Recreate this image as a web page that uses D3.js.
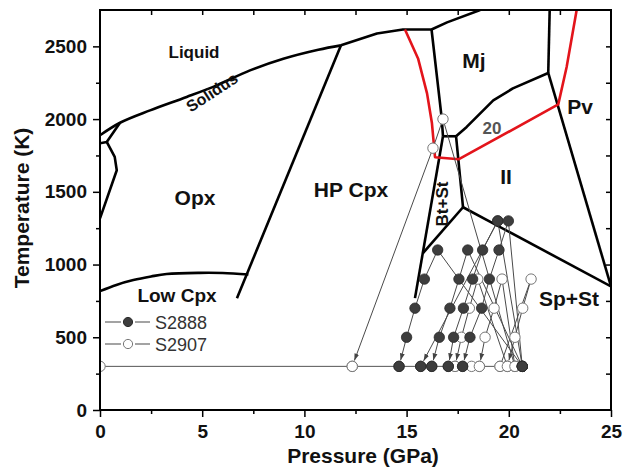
<!DOCTYPE html>
<html>
<head>
<meta charset="utf-8">
<script src="https://cdn.jsdelivr.net/npm/d3@7"></script>
<style>
  body { margin: 0; background: #fff; }
  svg text { font-family: Arial, "Liberation Sans", sans-serif; }
</style>
</head>
<body>
<svg id="chart" width="623" height="475"></svg>
<script>
// ---- DATA : [pressure (GPa), temperature (K)] ----
const pressureTicks = [0, 5, 10, 15, 20, 25];
const tempTicks = [0, 500, 1000, 1500, 2000, 2500];

// phase boundaries
const solidusLow = [[0, 1889], [0.98, 1975], [2.45, 2060], [4.24, 2152], [5.71, 2232], [7.34, 2335], [8.97, 2415], [10.68, 2477], [11.79, 2507]];
const solidusHigh = [[11.79, 2507], [13.55, 2589], [14.82, 2616], [16.22, 2616], [16.98, 2665], [18.6, 2750]];
const loopUpper = [[0, 1834], [0.33, 1843], [0.98, 1975]];
const loopLower = [[0.33, 1843], [0.72, 1740], [0.82, 1648], [0, 1317]];
const lowCpx = [[0, 817], [0.8, 860], [1.63, 893], [2.5, 918], [3.26, 935], [4.89, 943], [6.0, 942], [7.26, 932]];
const opxHpCpx = [[6.7, 769], [11.79, 2507]];
const mjLeft = [[16.22, 2616], [16.72, 2003], [16.78, 1882]];
const btStLeft = [[16.78, 1882], [15.41, 769]];
const btStTop = [[16.78, 1882], [17.42, 1882]];
const btStRight = [[17.42, 1882], [17.76, 1394]];
const btStBottom = [[15.8, 1078], [17.76, 1394]];
const spStTop = [[17.76, 1394], [25, 850]];
const mjIl = [[17.42, 1882], [17.94, 1946], [19.24, 2129], [20.2, 2211], [21.93, 2317]];
const mjPv = [[21.93, 2317], [22.0, 2750]];
const pvIl = [[21.93, 2317], [25, 850]];
const red20 = [[14.92, 2616], [15.56, 2417], [16.0, 2177], [16.24, 1971], [16.39, 1738], [17.56, 1724], [22.42, 2101], [22.83, 2358], [23.32, 2750]];

// S2888 (filled) heating / cooling runs, arrow on the last step
const s2888Runs = [
  [[20.66, 300], [16.52, 1100], [15.87, 900], [15.41, 700], [15.0, 500], [14.63, 300]],
  [[20.66, 300], [17.99, 1100], [17.56, 900], [17.12, 700], [16.6, 500], [16.23, 300]],
  [[20.66, 300], [19.46, 1300], [18.72, 1100], [18.23, 900], [17.78, 700], [17.3, 500], [17.04, 300]],
  [[20.66, 300], [19.98, 1300], [19.52, 1100], [19.05, 900], [18.67, 700], [18.1, 500], [17.74, 300]],
  [[19.46, 1300], [15.69, 300]]
];
const s2888Room = [14.63, 15.69, 16.23, 17.04, 17.74, 20.66];

// S2907 (open)
const s2907Runs = [
  [[20.3, 300], [16.78, 2000], [16.29, 1800], [12.34, 300]],
  [[19.93, 300], [18.48, 900], [18.07, 700], [17.68, 500], [17.37, 300]],
  [[20.3, 300], [19.67, 900], [19.28, 700], [18.84, 500], [18.56, 300]],
  [[19.57, 300], [21.09, 900], [20.68, 700], [20.3, 500], [19.93, 300]]
];
const s2907Room = [0, 12.34, 17.37, 18.18, 18.56, 19.57, 19.93, 20.3];
const roomT = 300;

// ---- SETUP ----
const svg = d3.select('#chart');
const pad = { top: 10, right: 12, bottom: 65, left: 100 };
const width = +svg.attr('width');
const height = +svg.attr('height');
const pointR = 5.2;

const x = d3.scaleLinear().domain([0, 25]).range([pad.left, width - pad.right]);
const y = d3.scaleLinear().domain([0, 2750]).range([height - pad.bottom, pad.top]);

const defs = svg.append('defs');
defs.append('clipPath').attr('id', 'plot')
  .append('rect')
  .attr('x', x(0)).attr('y', y(2750))
  .attr('width', x(25) - x(0)).attr('height', y(0) - y(2750));

defs.append('marker')
  .attr('id', 'arrow')
  .attr('viewBox', '0 0 10 10')
  .attr('refX', 10).attr('refY', 5)
  .attr('markerWidth', 7).attr('markerHeight', 7)
  .attr('markerUnits', 'userSpaceOnUse')
  .attr('orient', 'auto')
  .append('path')
  .attr('d', 'M0,1.5L10,5L0,8.5Z')
  .attr('fill', '#444');

//AXIS
function styleAxis(g) {
  g.select('.domain').remove();
  g.selectAll('.tick line').attr('stroke', '#000').attr('stroke-width', 1.5);
  g.selectAll('.tick text')
    .attr('fill', '#111')
    .style('font-size', '19px')
    .style('font-weight', 'bold');
}

svg.append('g')
  .attr('transform', `translate(0,${y(0)})`)
  .call(d3.axisBottom(x).tickValues(pressureTicks).tickSize(7).tickPadding(8).tickFormat(d3.format('d')))
  .call(styleAxis);
svg.append('g')
  .attr('transform', `translate(0,${y(0)})`)
  .call(d3.axisBottom(x).tickValues([2.5, 7.5, 12.5, 17.5, 22.5]).tickSize(4).tickFormat(''))
  .call(styleAxis);
svg.append('g')
  .attr('transform', `translate(${x(0)},0)`)
  .call(d3.axisLeft(y).tickValues(tempTicks).tickSize(7).tickPadding(6).tickFormat(d3.format('d')))
  .call(styleAxis);
svg.append('g')
  .attr('transform', `translate(${x(0)},0)`)
  .call(d3.axisLeft(y).tickValues([250, 750, 1250, 1750, 2250]).tickSize(4).tickFormat(''))
  .call(styleAxis);
svg.append('g')
  .attr('transform', `translate(0,${y(2750)})`)
  .call(d3.axisTop(x).tickValues(d3.range(2.5, 25, 2.5)).tickSize(-5).tickFormat(''))
  .call(styleAxis);
svg.append('g')
  .attr('transform', `translate(${x(25)},0)`)
  .call(d3.axisRight(y).tickValues(d3.range(250, 2750, 250)).tickSize(-5).tickFormat(''))
  .call(styleAxis);

//PHASE BOUNDARIES
const plot = svg.append('g').attr('clip-path', 'url(#plot)');
const line = d3.line().x((d) => x(d[0])).y((d) => y(d[1]));
const smooth = d3.line().x((d) => x(d[0])).y((d) => y(d[1])).curve(d3.curveCatmullRom.alpha(0.5));

const blackLines = [solidusHigh, loopUpper, loopLower, opxHpCpx, mjLeft, btStLeft, btStTop,
  btStRight, btStBottom, spStTop, mjIl, mjPv, pvIl];

plot.append('path').attr('d', smooth(solidusLow))
  .attr('fill', 'none').attr('stroke', '#000').attr('stroke-width', 2.6);
plot.append('path').attr('d', smooth(lowCpx))
  .attr('fill', 'none').attr('stroke', '#000').attr('stroke-width', 2.6);
plot.selectAll('.phase')
  .data(blackLines)
  .enter()
  .append('path')
  .classed('phase', true)
  .attr('d', line)
  .attr('fill', 'none')
  .attr('stroke', '#000')
  .attr('stroke-width', 2.6)
  .attr('stroke-linejoin', 'round');
plot.append('path').attr('d', line(red20))
  .attr('fill', 'none').attr('stroke', '#e3141b').attr('stroke-width', 2.6)
  .attr('stroke-linejoin', 'round');

//EXPERIMENT RUNS
const roomPs = s2888Room.concat(s2907Room);
plot.append('line')
  .attr('x1', x(d3.min(roomPs))).attr('x2', x(d3.max(roomPs)))
  .attr('y1', y(roomT)).attr('y2', y(roomT))
  .attr('stroke', '#555').attr('stroke-width', 1);

function runPath(run) {
  const pts = run.map((d) => [x(d[0]), y(d[1])]);
  const n = pts.length;
  const [x0, y0] = pts[n - 2];
  const [x1, y1] = pts[n - 1];
  const cut = (pointR + 1) / Math.hypot(x1 - x0, y1 - y0);
  pts[n - 1] = [x1 - (x1 - x0) * cut, y1 - (y1 - y0) * cut];
  return d3.line()(pts);
}

plot.selectAll('.run')
  .data(s2888Runs.concat(s2907Runs))
  .enter()
  .append('path')
  .classed('run', true)
  .attr('d', runPath)
  .attr('fill', 'none')
  .attr('stroke', '#4a4a4a')
  .attr('stroke-width', 1)
  .attr('marker-end', 'url(#arrow)');

const filledPts = s2888Runs.flat().concat(s2888Room.map((p) => [p, roomT]));
const openPts = s2907Runs.flat().concat(s2907Room.map((p) => [p, roomT]));

plot.selectAll('.open')
  .data(openPts)
  .enter()
  .append('circle')
  .classed('open', true)
  .attr('cx', (d) => x(d[0]))
  .attr('cy', (d) => y(d[1]))
  .attr('r', pointR)
  .attr('fill', '#fff')
  .attr('stroke', '#777')
  .attr('stroke-width', 1);

plot.selectAll('.filled')
  .data(filledPts)
  .enter()
  .append('circle')
  .classed('filled', true)
  .attr('cx', (d) => x(d[0]))
  .attr('cy', (d) => y(d[1]))
  .attr('r', pointR)
  .attr('fill', '#3d3d3d')
  .attr('stroke', '#2a2a2a')
  .attr('stroke-width', 0.8);

//FRAME
svg.append('rect')
  .attr('x', x(0)).attr('y', y(2750))
  .attr('width', x(25) - x(0)).attr('height', y(0) - y(2750))
  .attr('fill', 'none').attr('stroke', '#000').attr('stroke-width', 2);

//LEGEND
const legend = [
  { name: 'S2888', fill: '#3d3d3d', stroke: '#2a2a2a', y: 322 },
  { name: 'S2907', fill: '#fff', stroke: '#777', y: 344 }
];
const leg = svg.selectAll('.legend').data(legend).enter().append('g').classed('legend', true);
leg.append('line').attr('x1', 105).attr('x2', 121).attr('y1', (d) => d.y).attr('y2', (d) => d.y)
  .attr('stroke', '#666').attr('stroke-width', 1.2);
leg.append('line').attr('x1', 135).attr('x2', 150).attr('y1', (d) => d.y).attr('y2', (d) => d.y)
  .attr('stroke', '#666').attr('stroke-width', 1.2);
leg.append('circle').attr('cx', 128).attr('cy', (d) => d.y).attr('r', 4.6)
  .attr('fill', (d) => d.fill).attr('stroke', (d) => d.stroke);
leg.append('text').attr('x', 155).attr('y', (d) => d.y + 6.5)
  .style('font-size', '18px').attr('fill', '#333').text((d) => d.name);

//REGION LABELS
const labels = [
  { t: 'Liquid', x: 194, y: 58, s: 17 },
  { t: 'Opx', x: 195, y: 205, s: 21 },
  { t: 'HP Cpx', x: 351, y: 197, s: 21 },
  { t: 'Low Cpx', x: 177, y: 302, s: 19 },
  { t: 'Mj', x: 474, y: 68, s: 21 },
  { t: 'Pv', x: 580, y: 114, s: 21 },
  { t: 'II', x: 506, y: 184, s: 21 },
  { t: 'Sp+St', x: 569, y: 306, s: 21 },
  { t: '20', x: 492, y: 134, s: 17, c: '#555' }
];
svg.selectAll('.region')
  .data(labels)
  .enter()
  .append('text')
  .classed('region', true)
  .attr('x', (d) => d.x)
  .attr('y', (d) => d.y)
  .attr('text-anchor', 'middle')
  .attr('fill', (d) => d.c || '#111')
  .style('font-size', (d) => d.s + 'px')
  .style('font-weight', 'bold')
  .text((d) => d.t);

svg.append('text')
  .attr('transform', 'translate(215,97) rotate(-33)')
  .attr('text-anchor', 'middle')
  .style('font-size', '16px').style('font-weight', 'bold').attr('fill', '#111')
  .text('Solidus');

svg.append('text')
  .attr('transform', 'translate(448,204) rotate(-90)')
  .attr('text-anchor', 'middle')
  .style('font-size', '17px').style('font-weight', 'bold').attr('fill', '#111')
  .text('Bt+St');

//AXIS TITLES
svg.append('text')
  .attr('x', 363).attr('y', 463)
  .attr('text-anchor', 'middle')
  .style('font-size', '21px').style('font-weight', 'bold').attr('fill', '#111')
  .text('Pressure (GPa)');

svg.append('text')
  .attr('transform', 'translate(29,208) rotate(-90)')
  .attr('text-anchor', 'middle')
  .style('font-size', '21px').style('font-weight', 'bold').attr('fill', '#111')
  .text('Temperature (K)');
</script>
</body>
</html>
